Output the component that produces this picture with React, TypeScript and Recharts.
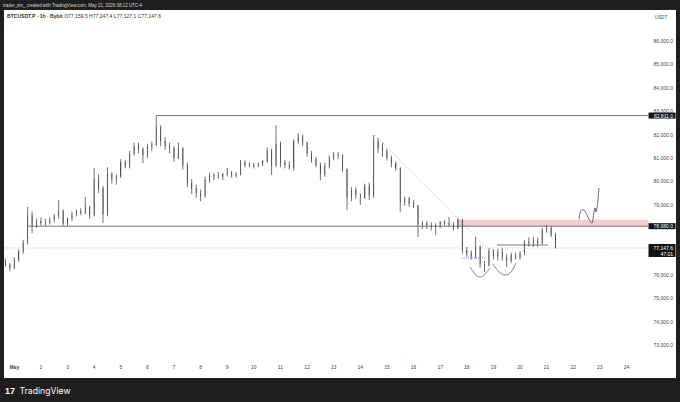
import React from 'react';
import { ComposedChart, Bar, Line, XAxis, YAxis, ReferenceLine, ReferenceArea } from 'recharts';

// hourly chart shown as 4h candles, time in hours from May 1 00:00
const candleStart = -8;
const candleStep = 4;

const opens = [
  76550, 76400, 76300, 76650, 77000, 77350, 78550, 78100, 78300, 78200,
  78250, 78350, 78500, 78700, 78200, 78400, 78600, 78700, 78650, 78900,
  78550, 80100, 79700, 78600, 80300, 80100, 80200, 80800, 80650, 81200,
  81500, 81350, 81100, 81500, 81550, 82300, 81700, 81500, 81400, 81000,
  81400, 80700, 79900, 79700, 79500, 79350, 80050, 80200, 80250, 80200,
  80300, 80400, 80250, 80300, 80800, 80700, 80650, 80700, 80750, 80850,
  81300, 80700, 81600, 80800, 80700, 80600, 81700, 81900, 81650, 81200,
  80950, 80700, 80300, 80650, 81000, 81150, 81100, 80500, 79300, 79600,
  79400, 79300, 79800, 79400, 81700, 81400, 81300, 81000, 80750, 80550,
  79100, 79250, 79050, 78950, 78150, 78200, 78100, 78050, 78100, 78250,
  78200, 78150, 78000, 78350, 77050, 76900, 76800, 77200, 76450, 76400,
  77000, 76800, 76950, 76750, 76600, 76850, 76750, 76900, 77400, 77350,
  77450, 77350, 77900, 78000, 77700,
];
const highs = [
  76700, 76500, 76750, 77100, 77500, 78900, 78700, 78400, 78450, 78400,
  78450, 78600, 79200, 78800, 78450, 78700, 78800, 78850, 79330, 78950,
  80570, 80300, 79800, 80600, 80400, 80300, 80950, 80900, 81300, 81650,
  81650, 81450, 81600, 81700, 82811, 82400, 81900, 81650, 81500, 81650,
  81450, 80800, 80100, 79850, 79650, 80200, 80350, 80350, 80400, 80350,
  80570, 80450, 80400, 80910, 80900, 80800, 80800, 80800, 80900, 81450,
  81400, 82400, 81700, 80900, 80850, 81800, 82060, 82000, 81700, 81300,
  81050, 80800, 80800, 81100, 81250, 81250, 81150, 80550, 79750, 79750,
  79500, 79900, 79950, 81980, 81850, 81650, 81400, 81100, 80850, 80600,
  79350, 79330, 79200, 79000, 78300, 78300, 78250, 78200, 78300, 78350,
  78470, 78250, 78430, 78400, 77200, 77050, 77620, 77250, 76600, 77150,
  77100, 77100, 77150, 76900, 76950, 76950, 77000, 77500, 77600, 77620,
  77600, 78000, 78130, 78080, 77800,
];
const lows = [
  76350, 76150, 76250, 76550, 76900, 77300, 77790, 78000, 78100, 78080,
  78150, 78250, 78400, 78100, 78080, 78300, 78500, 78550, 78600, 78400,
  78500, 79500, 78220, 78500, 79900, 79850, 80150, 80550, 80550, 81100,
  81200, 80780, 81000, 81300, 81500, 81500, 81350, 81200, 80830, 80950,
  80500, 79750, 79450, 79300, 79150, 79300, 79950, 80050, 80100, 80050,
  80200, 80150, 80150, 80250, 80600, 80600, 80550, 80600, 80650, 80800,
  80270, 80600, 80600, 80550, 80500, 80450, 81600, 81500, 81050, 80800,
  80600, 80050, 80200, 80550, 80900, 80950, 80400, 78770, 79150, 79250,
  78990, 79250, 79200, 79300, 81200, 81050, 80900, 80600, 80450, 78700,
  78950, 78900, 78850, 77620, 77950, 77950, 77900, 77700, 78000, 78100,
  78050, 77900, 77950, 76900, 76750, 76650, 76700, 76300, 76120, 76350,
  76650, 76600, 76600, 76330, 76500, 76650, 76650, 76850, 77200, 77200,
  77200, 77300, 77800, 77600, 77127.1,
];
const closes = [
  76400, 76300, 76650, 77000, 77350, 78550, 78100, 78300, 78200, 78250,
  78350, 78500, 78700, 78200, 78400, 78600, 78700, 78650, 78900, 78550,
  80100, 79700, 78600, 80300, 80100, 80200, 80800, 80650, 81200, 81500,
  81350, 81100, 81500, 81550, 82300, 81700, 81500, 81400, 81000, 81400,
  80700, 79900, 79700, 79500, 79350, 80050, 80200, 80250, 80200, 80300,
  80400, 80250, 80300, 80800, 80700, 80650, 80700, 80750, 80850, 81300,
  80700, 81600, 80800, 80700, 80600, 81700, 81900, 81650, 81200, 80950,
  80700, 80300, 80650, 81000, 81150, 81100, 80500, 79300, 79600, 79400,
  79300, 79800, 79400, 81700, 81400, 81300, 81000, 80750, 80550, 79100,
  79250, 79050, 78950, 78150, 78200, 78100, 78050, 78100, 78250, 78200,
  78150, 78000, 78350, 77050, 76900, 76800, 77200, 76450, 76400, 77000,
  76800, 76950, 76750, 76600, 76850, 76750, 76900, 77400, 77350, 77450,
  77350, 77900, 78000, 77700, 77147.6,
];

// axis
const dayTicks = [0, 24, 48, 72, 96, 120, 144, 168, 192, 216, 240, 264, 288, 312, 336, 360, 384, 408, 432, 456, 480, 504, 528, 552];
const dayLabels = ['May', '2', '3', '4', '5', '6', '7', '8', '9', '10', '11', '12', '13', '14', '15', '16', '17', '18', '19', '20', '21', '22', '23', '24'];
const priceTicks = [73000, 74000, 75000, 76000, 79000, 80000, 81000, 82000, 83000, 84000, 85000, 86000];
const timeDomain = [-9.3, 571.4];
const priceDomain = [72271, 87326];

// drawings
const resistanceLevel = 82811;
const resistanceStart = 128;
const supportLevel = 78080;
const supportStart = 12;
const zoneTop = 78360;
const zoneStart = 400;
const lastPrice = 77147.6;
const trendStart = { t: 325.2, v: 81980 };
const trendEnd = { t: 426.2, v: 77147 };
const neckLow = { t1: 403.7, t2: 424.4, v: 76720 };
const neckHigh = { t1: 435.3, t2: 481.3, v: 77275 };
const arc1 = [
  { t: 410.9, v: 76334 }, { t: 415.4, v: 76035 }, { t: 419.9, v: 75906 }, { t: 424.4, v: 76035 }, { t: 428.9, v: 76291 },
];
const arc2 = [
  { t: 431.7, v: 76462 }, { t: 437.1, v: 76120 }, { t: 442.5, v: 75992 }, { t: 447.9, v: 76120 }, { t: 452.4, v: 76505 },
];
const projection = [
  { t: 509.2, v: 78387 }, { t: 510.1, v: 78640 }, { t: 511.9, v: 78772 }, { t: 513.7, v: 78772 },
  { t: 515.5, v: 78640 }, { t: 520.9, v: 78216 }, { t: 523.6, v: 78857 }, { t: 524.5, v: 78686 }, { t: 527.2, v: 79713 },
];

const fmt = (v: number) => v.toLocaleString('en-US', { minimumFractionDigits: 1, maximumFractionDigits: 1 });

const Candle = (props: any) => {
  const { x, y, width, height, payload } = props;
  if (x == null || y == null || !payload) return null;
  const top = Math.min(y, y + height);
  const h = Math.abs(height);
  const { o, c } = payload;
  const hi = payload.h;
  const lo = payload.l;
  const py = (v: number) => top + ((hi - v) / (hi - lo)) * h;
  const cx = x + width / 2;
  const up = c >= o;
  const bTop = py(Math.max(o, c));
  const bBot = py(Math.min(o, c));
  return (
    <g>
      <line x1={cx} x2={cx} y1={top} y2={top + h} stroke="#333" strokeWidth={0.7} />
      <rect x={x} y={bTop} width={width} height={Math.max(0.8, bBot - bTop)} fill={up ? '#a8a8a8' : '#262626'} stroke="#333" strokeWidth={0.45} />
    </g>
  );
};

const PriceTick = (props: any) => {
  const { y, payload } = props;
  return (
    <text x={673} y={y} textAnchor="end" dominantBaseline="central" fontSize={5} fill="#444" fontFamily="Liberation Sans, Arial, sans-serif">
      {fmt(payload.value)}
    </text>
  );
};

const TimeTick = (props: any) => {
  const { x, y, payload, index } = props;
  return (
    <text x={x} y={y + 3} textAnchor="middle" fontSize={5} fill="#444" fontFamily="Liberation Sans, Arial, sans-serif" fontWeight={index === 0 ? 700 : 400}>
      {dayLabels[index]}
    </text>
  );
};

const PriceTag = (props: any) => {
  const { viewBox, text, sub } = props;
  if (!viewBox) return null;
  const left = viewBox.x + viewBox.width;
  const y = viewBox.y;
  if (sub) {
    return (
      <g>
        <rect x={left + 0.5} y={y - 4} width={27} height={13} fill="#131313" />
        <text x={673} y={y} textAnchor="end" dominantBaseline="central" fontSize={5} fill="#fff" fontFamily="Liberation Sans, Arial, sans-serif">{text}</text>
        <text x={673} y={y + 6} textAnchor="end" dominantBaseline="central" fontSize={5} fill="#fff" fontFamily="Liberation Sans, Arial, sans-serif">{sub}</text>
      </g>
    );
  }
  return (
    <g>
      <rect x={left + 0.5} y={y - 3} width={27} height={6} fill="#131313" />
      <text x={673} y={y} textAnchor="end" dominantBaseline="central" fontSize={5} fill="#fff" fontFamily="Liberation Sans, Arial, sans-serif">{text}</text>
    </g>
  );
};

export default function App() {
  const data = opens.map((o, i) => ({
    t: candleStart + i * candleStep,
    o,
    h: highs[i],
    l: lows[i],
    c: closes[i],
    range: [lows[i], highs[i]],
  }));

  return (
    <div style={{ position: 'absolute', left: 0, top: 0, width: 680, height: 402 }}>
      <svg width={680} height={402} style={{ position: 'absolute', left: 0, top: 0 }}>
        <rect x={0} y={0} width={680} height={402} fill="#1e1e1e" />
        <rect x={4} y={10} width={672} height={368} fill="#ffffff" />
        <text x={3} y={7.3} fontSize={4.8} fill="#d8d8d8" fontFamily="Liberation Sans, Arial, sans-serif" textLength={139} lengthAdjust="spacingAndGlyphs">
          trader_tim_ created with TradingView.com, May 21, 2026 08:12 UTC-4
        </text>
        <text x={7} y={18} fontSize={4.8} fill="#333" fontFamily="Liberation Sans, Arial, sans-serif" textLength={154} lengthAdjust="spacingAndGlyphs">
          <tspan fontWeight={700}>BTCUSDT.P · 1h · Bybit</tspan>  O77,159.5  H77,247.4  L77,127.1  C77,147.6
        </text>
        <text x={661} y={19} textAnchor="middle" fontSize={4.6} fill="#555" fontFamily="Liberation Sans, Arial, sans-serif">USDT</text>
        <text x={5} y={394} fontSize={9} fontWeight={700} fill="#ffffff" fontFamily="Liberation Sans, Arial, sans-serif">17</text>
        <text x={19.5} y={394} fontSize={8.6} fill="#ffffff" fontFamily="Inter, Liberation Sans, Arial, sans-serif" textLength={51} lengthAdjust="spacingAndGlyphs">TradingView</text>
      </svg>
      <div style={{ position: 'absolute', left: 0, top: 0 }}>
        <ComposedChart width={680} height={402} data={data} margin={{ top: 10, right: 4, bottom: 24, left: 4 }}>
          <XAxis
            dataKey="t"
            type="number"
            domain={timeDomain}
            ticks={dayTicks}
            allowDataOverflow
            axisLine={false}
            tickLine={false}
            tickSize={0}
            tickMargin={4}
            height={16}
            tick={<TimeTick />}
            interval={0}
          />
          <YAxis
            orientation="right"
            type="number"
            domain={priceDomain}
            ticks={priceTicks}
            allowDataOverflow
            axisLine={false}
            tickLine={false}
            width={28}
            tick={<PriceTick />}
            interval={0}
          />
          <ReferenceArea x1={zoneStart} x2={timeDomain[1]} y1={supportLevel} y2={zoneTop} fill="#f6c4ca" fillOpacity={0.85} stroke="none" ifOverflow="hidden" />
          <ReferenceLine y={lastPrice} stroke="#9a9a9a" strokeWidth={0.6} strokeDasharray="1 1.5" label={<PriceTag text={fmt(lastPrice)} sub="47:01" />} />
          <ReferenceLine segment={[{ x: resistanceStart, y: resistanceLevel }, { x: timeDomain[1], y: resistanceLevel }]} stroke="#555" strokeWidth={0.8} />
          <ReferenceLine y={resistanceLevel} stroke="none" strokeOpacity={0} label={<PriceTag text={fmt(resistanceLevel)} />} />
          <ReferenceLine segment={[{ x: supportStart, y: supportLevel }, { x: timeDomain[1], y: supportLevel }]} stroke="#555" strokeWidth={0.8} />
          <ReferenceLine y={supportLevel} stroke="none" strokeOpacity={0} label={<PriceTag text={fmt(supportLevel)} />} />
          <ReferenceLine segment={[{ x: trendStart.t, y: trendStart.v }, { x: trendEnd.t, y: trendEnd.v }]} stroke="#9a9a9a" strokeWidth={0.6} strokeDasharray="1.5 1.5" />
          <ReferenceLine segment={[{ x: neckLow.t1, y: neckLow.v }, { x: neckLow.t2, y: neckLow.v }]} stroke="#5b6fd6" strokeWidth={0.7} strokeDasharray="1 1" />
          <ReferenceLine segment={[{ x: neckHigh.t1, y: neckHigh.v }, { x: neckHigh.t2, y: neckHigh.v }]} stroke="#444" strokeWidth={0.7} />
          <Bar dataKey="range" shape={<Candle />} barSize={2.8} isAnimationActive={false} />
          <Line data={arc1} dataKey="v" type="natural" dot={false} stroke="#555" strokeWidth={0.7} isAnimationActive={false} />
          <Line data={arc2} dataKey="v" type="natural" dot={false} stroke="#555" strokeWidth={0.7} isAnimationActive={false} />
          <Line data={projection} dataKey="v" type="monotone" dot={false} stroke="#444" strokeWidth={0.8} isAnimationActive={false} />
        </ComposedChart>
      </div>
    </div>
  );
}
